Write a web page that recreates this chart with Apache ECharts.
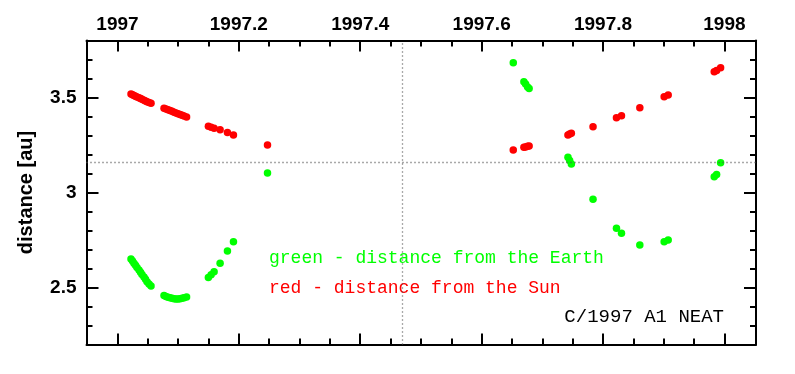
<!DOCTYPE html>
<html>
<head>
<meta charset="utf-8">
<script src="https://cdn.jsdelivr.net/npm/echarts@6/dist/echarts.min.js"></script>
<style>html,body{margin:0;padding:0;background:#fff}#c{width:795px;height:374px}</style>
</head>
<body>
<div id="c"></div>
<script>
// observation epochs (decimal year) shared by both series
var epochs = [
  1997.0223,1997.0248,1997.0272,1997.0297,1997.0322,1997.0355,1997.0380,1997.0404,1997.0437,1997.0462,1997.0487,1997.0520,1997.0553,
  1997.0767,1997.0800,1997.0833,1997.0866,1997.0899,1997.0932,1997.0965,1997.0998,1997.1031,1997.1064,1997.1097,1997.1139,
  1997.1498,1997.1543,1997.1592,1997.1691,1997.1812,1997.1911,
  1997.2472,
  1997.6521,1997.6696,1997.6724,1997.6757,1997.6782,1997.7422,1997.7450,1997.7478,1997.7835,1997.8221,1997.8304,1997.8606,1997.9007,1997.9073,1997.9832,1997.9871,1997.9937
];
// distance from the Sun [au]
var sunDist = [
  3.518,3.515,3.511,3.507,3.503,3.499,3.495,3.491,3.486,3.482,3.478,3.474,3.470,
  3.443,3.439,3.435,3.431,3.427,3.423,3.419,3.415,3.411,3.407,3.403,3.398,
  3.349,3.344,3.338,3.330,3.316,3.303,
  3.250,
  3.224,3.238,3.240,3.243,3.245,3.303,3.308,3.312,3.346,3.394,3.404,3.446,3.504,3.513,3.636,3.642,3.657
];
// distance from the Earth [au]
var earthDist = [
  2.650,2.640,2.628,2.617,2.605,2.592,2.580,2.568,2.555,2.543,2.530,2.518,2.508,
  2.458,2.453,2.449,2.446,2.443,2.441,2.440,2.440,2.441,2.443,2.446,2.450,
  2.552,2.567,2.583,2.627,2.692,2.741,
  3.102,
  3.683,3.583,3.571,3.555,3.547,3.185,3.168,3.150,2.964,2.812,2.785,2.724,2.741,2.750,3.083,3.095,3.157
];
var xTickLabels = [1997, 1997.2, 1997.4, 1997.6, 1997.8, 1998];
var xMinorTicks = [1997.05,1997.1,1997.15,1997.25,1997.3,1997.35,1997.45,1997.5,1997.55,1997.65,1997.7,1997.75,1997.85,1997.9,1997.95];
var yTickLabels = [2.5, 3, 3.5];
var yMinorTicks = [2.3,2.4,2.6,2.7,2.8,2.9,3.1,3.2,3.3,3.4,3.6,3.7];
var refYear = 1997.466;   // perihelion epoch
var refDist = 3.16;       // perihelion distance
var xRange = [1996.949, 1998.052];
var yRange = [2.2, 3.8];

var sunData = epochs.map(function (t, i) { return [t, sunDist[i]]; });
var earthData = epochs.map(function (t, i) { return [t, earthDist[i]]; });

var lineStyle = { color: '#000', width: 2 };
var labelFont = { fontFamily: 'Liberation Sans', fontWeight: 'bold', fontSize: 19, color: '#000' };
function fmt(v) { return String(Math.round(v * 10) / 10); }

function xAx(pos, ticks, len, labels, showLine) {
  return {
    type: 'value', position: pos, min: xRange[0], max: xRange[1],
    axisLine: { show: showLine, lineStyle: lineStyle },
    axisTick: { show: true, inside: true, length: len, customValues: ticks, lineStyle: { color: '#000', width: 2 } },
    axisLabel: labels ? Object.assign({ show: true, customValues: ticks, margin: 6, formatter: fmt }, labelFont) : { show: false, customValues: ticks },
    splitLine: { show: false }
  };
}
function yAx(pos, ticks, len, labels, showLine) {
  return {
    type: 'value', position: pos, min: yRange[0], max: yRange[1],
    axisLine: { show: showLine, lineStyle: lineStyle },
    axisTick: { show: true, inside: true, length: len, customValues: ticks, lineStyle: { color: '#000', width: 2 } },
    axisLabel: labels ? Object.assign({ show: true, customValues: ticks, margin: 10, formatter: fmt }, labelFont) : { show: false, customValues: ticks },
    splitLine: { show: false }
  };
}

var xAxes = [
  xAx('top', xTickLabels, 11, true, true),
  xAx('top', xMinorTicks, 6, false, false),
  xAx('bottom', xTickLabels, 11, false, true),
  xAx('bottom', xMinorTicks, 6, false, false)
];
var yAxes = [
  yAx('left', yTickLabels, 12, true, true),
  yAx('left', yMinorTicks, 6, false, false),
  yAx('right', yTickLabels, 12, false, true),
  yAx('right', yMinorTicks, 6, false, false)
];
yAxes[0].name = 'distance [au]';
yAxes[0].nameLocation = 'middle';
yAxes[0].nameGap = 50;
yAxes[0].nameTextStyle = { fontFamily: 'Liberation Sans', fontWeight: 'bold', fontSize: 20, color: '#000' };

var chart = echarts.init(document.getElementById('c'), null, { renderer: 'canvas' });
chart.setOption({
  animation: false,
  backgroundColor: '#fff',
  grid: { left: 86.5, right: 39, top: 40.5, bottom: 29.5, containLabel: false },
  xAxis: xAxes,
  yAxis: yAxes,
  series: [
    {
      type: 'scatter', name: 'earth', data: earthData, symbol: 'circle', symbolSize: 7.5,
      itemStyle: { color: '#00ff00', opacity: 1 },
      markLine: {
        silent: true, symbol: 'none', label: { show: false },
        lineStyle: { color: '#555', width: 1.3, type: [1, 3] },
        data: [{ xAxis: refYear }, { yAxis: refDist }]
      }
    },
    {
      type: 'scatter', name: 'sun', data: sunData, symbol: 'circle', symbolSize: 7.5,
      itemStyle: { color: '#ff0000', opacity: 1 }
    }
  ],
  graphic: [
    { type: 'text', left: 269, top: 249, style: { text: 'green - distance from the Earth', fill: '#00ff00', font: '18px "Liberation Mono"' } },
    { type: 'text', left: 269, top: 279, style: { text: 'red - distance from the Sun', fill: '#ff0000', font: '18px "Liberation Mono"' } },
    { type: 'text', right: 71, top: 307, style: { text: 'C/1997 A1 NEAT', fill: '#000', font: '19px "Liberation Mono"', textAlign: 'right' } }
  ]
});
</script>
</body>
</html>
